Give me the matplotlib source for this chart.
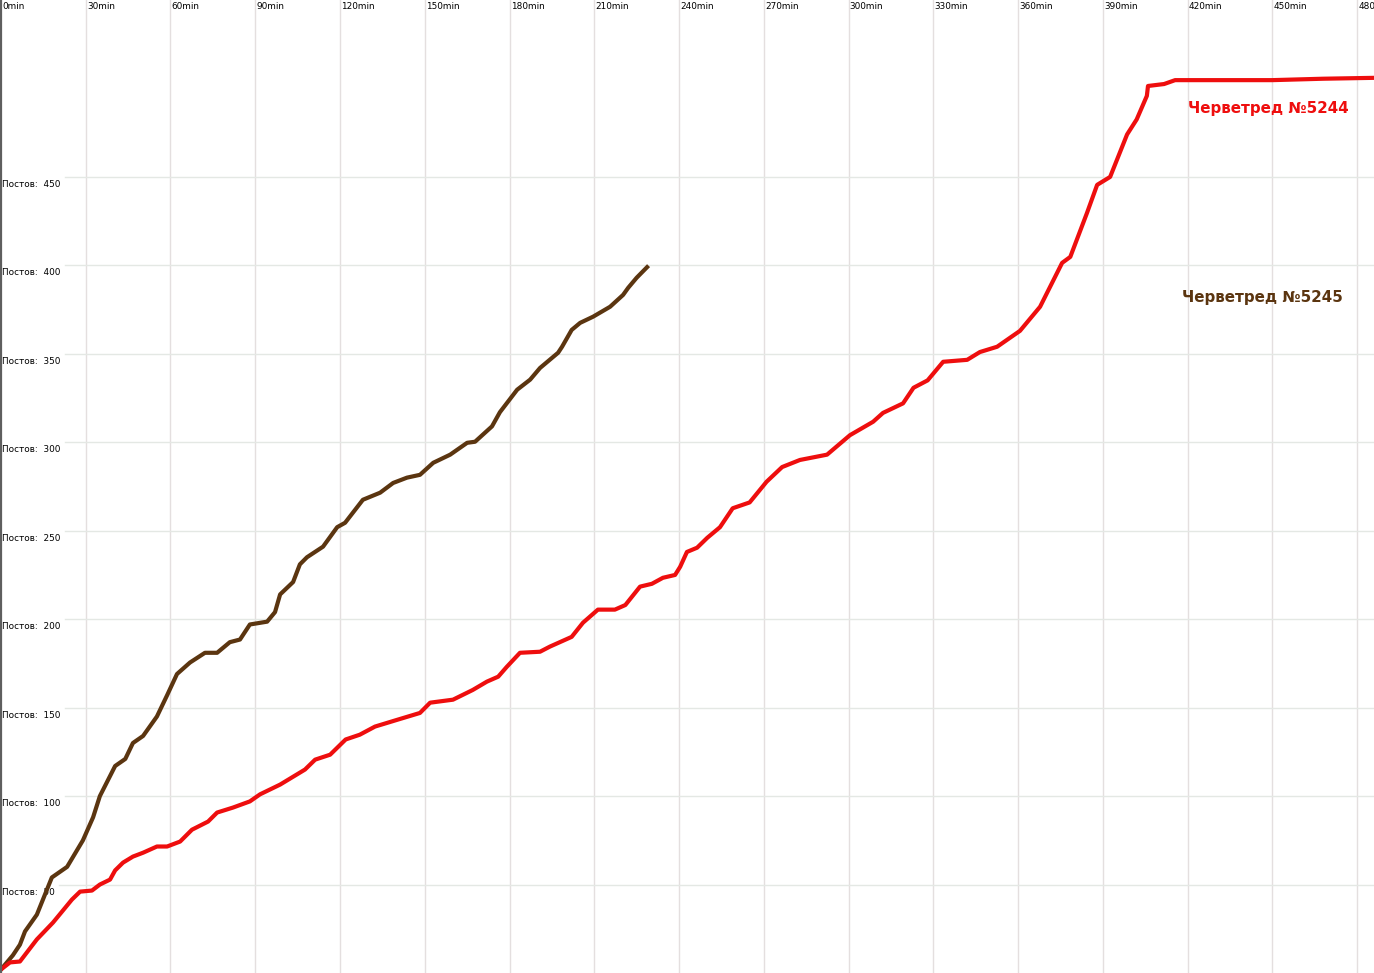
import numpy as np
from matplotlib import pyplot as plt

# minutes / posts
t_5245 = [0, 4.2, 6.7, 8.5, 12.7, 18, 23.4, 29, 32.6, 35, 40.4, 44, 46.7, 50.3, 55.2,
          58.8, 62.3, 66.9, 72.2, 76.5, 81, 84.6, 88.1, 94.2, 97, 98.8, 103.4, 105.8,
          108.3, 114, 119, 121.8, 128.1, 134.2, 138.8, 143.7, 148.3, 153, 159, 165,
          167.8, 173.8, 176.6, 182.7, 187.3, 190.8, 197.2, 198.6, 202, 205, 209.6,
          215.6, 220.2, 222, 225, 228.7]
p_5245 = [2, 10, 16, 23.5, 33, 54, 60, 75, 88, 100, 117, 121, 130, 134, 145,
          157, 169, 175.5, 181, 181, 187, 188.5, 197, 198.6, 204, 214, 221, 231,
          235, 241, 252, 254.5, 267.5, 271.5, 277, 280, 281.6, 288.4, 293, 299.7,
          300.3, 309, 317, 329.7, 335.4, 342, 350.6, 354, 363.5, 367.5, 371,
          376.6, 383.3, 387.3, 393, 399]

t_5244 = [0, 3.2, 6.7, 12.7, 18.4, 21.6, 25.1, 28, 32.2, 35, 38.6, 40.4, 43.2, 46.7,
          50.3, 55.2, 58.8, 63.4, 67.6, 73.3, 76.5, 82.1, 88.1, 91.7, 98.8, 107.6,
          111.2, 116.5, 122, 127, 132.4, 140, 148.3, 151.9, 160, 167, 172, 176, 179,
          183.7, 190.8, 194.3, 202, 206, 211.3, 217.3, 221, 226.2, 230.4, 234.3,
          238.6, 240.4, 242.8, 246.4, 250, 254.5, 259, 265, 271, 276.5, 282.8,
          292.4, 300.5, 308.7, 312.2, 319.3, 323, 328, 333.5, 342, 346.5, 352.6,
          360.7, 367.8, 375.6, 378.5, 384.4, 388, 392.6, 398.6, 402, 405.6, 406,
          411.7, 415.6, 450, 468, 486]
p_5244 = [2, 6, 6.5, 19, 28.5, 34.7, 41.5, 46, 46.6, 50, 52.8, 58, 62.4, 65.8,
          68, 71.5, 71.5, 74.3, 81, 85.6, 90.7, 93.5, 97, 101, 106.5, 115,
          120.6, 123.4, 132, 134.7, 139.3, 143, 147, 152.8, 154.5, 160, 164.7, 167.5, 173,
          181, 181.6, 184.5, 190, 198, 205.4, 205.4, 208, 218.4, 220, 223.4,
          225, 229.6, 238, 240.4, 246, 252, 262.7, 266, 277.7, 286, 290,
          293, 304, 311.6, 316.6, 322, 330.8, 335, 345.5, 346.6, 351, 354,
          363, 376.6, 401.4, 404.8, 429.6, 445.5, 450, 474, 482.5, 495.8, 501.4,
          502.5, 504.7, 504.7, 505.5, 506]

x_ticks = list(range(0, 481, 30))
y_ticks = list(range(50, 451, 50))

RED = '#ee0e0e'
BROWN = '#5b3510'

fig = plt.figure(figsize=(13.74, 9.73), dpi=100)
ax = fig.add_axes([0, 0, 1, 1])
ax.set_xlim(-0.35, 486)
ax.set_ylim(0, 550)
for s in ax.spines.values():
    s.set_visible(False)
ax.set_xticks([])
ax.set_yticks([])

# grid
for m in x_ticks[1:]:
    ax.axvline(m, color='#e4dfdf', lw=1, zorder=0)
for p in y_ticks:
    start = 59 / 1374 if p < 100 else 65 / 1374
    ax.axhline(p, xmin=start, color='#e4e8e4', lw=1, zorder=0)
ax.axvline(0, color='#5f5f5f', lw=1.6, zorder=4)

# labels
for m in x_ticks:
    ax.text(m + 0.4, 548.6, '{}min'.format(m), fontsize=6.4, ha='left', va='top',
            color='black', zorder=1)
for p in y_ticks:
    ax.text(0.4, p - 4.3, 'Постов:  {}'.format(p), fontsize=6.4, ha='left', va='center',
            color='black', zorder=1)

ax.plot(t_5245, p_5245, color=BROWN, lw=3, solid_joinstyle='round', zorder=3)
ax.plot(t_5244, p_5244, color=RED, lw=3, solid_joinstyle='round', zorder=3)

ax.text(420.2, 488.4, 'Черветред №5244', color=RED, fontsize=10.9,
        fontweight='bold', ha='left', va='center', zorder=5)
ax.text(418, 381.6, 'Черветред №5245', color=BROWN, fontsize=10.9,
        fontweight='bold', ha='left', va='center', zorder=5)

fig.savefig('out.png', dpi=100)
